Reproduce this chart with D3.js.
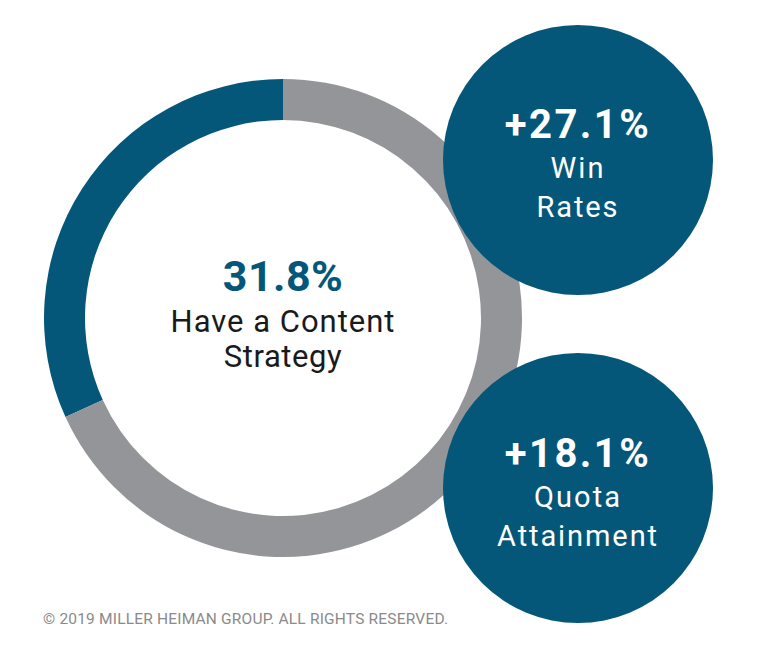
<!DOCTYPE html>
<html><head><meta charset="utf-8">
<script src="https://cdn.jsdelivr.net/npm/d3@7"></script>
<style>html,body{margin:0;padding:0;background:#fff;}svg{display:block;}</style>
</head><body>
<svg id="chart" width="768" height="666"></svg>
<script>
// ---- data ----
const shareLabels = ["Have a Content Strategy", "Other"];
const shareValues = [31.8, 68.2];
const shareHeadline = "31.8%";
const shareCaption = ["Have a Content", "Strategy"];
const bubbleValues = ["+27.1%", "+18.1%"];
const bubbleCaptions = [["Win", "Rates"], ["Quota", "Attainment"]];
const footnote = "\u00A9 2019 MILLER HEIMAN GROUP. ALL RIGHTS RESERVED.";

// ---- style ----
const BLUE = "#05577a", GRAY = "#939598";
const FONT = "Roboto, 'DejaVu Sans', sans-serif";
const svg = d3.select("#chart");

// donut
const cx = 283, cy = 318, rOuter = 239, rInner = 198;
const pie = d3.pie().sort(null).startAngle(0).endAngle(-2 * Math.PI);
const arc = d3.arc().innerRadius(rInner).outerRadius(rOuter);
const color = d3.scaleOrdinal().domain(shareLabels).range([BLUE, GRAY]);
const g = svg.append("g").attr("transform", `translate(${cx},${cy})`);
g.selectAll("path").data(pie(shareValues)).join("path")
  .attr("d", arc).attr("fill", (d, i) => color(shareLabels[i]));

function fitText(sel, w) {
  sel.each(function () {
    const len = this.getComputedTextLength();
    const n = this.textContent.length;
    if (n > 1) d3.select(this).attr("letter-spacing", ((w - len) / (n - 1)).toFixed(2));
  });
}

g.append("text").attr("x", 0).attr("y", 291 - cy).attr("text-anchor", "middle")
  .attr("font-family", FONT).attr("font-weight", 700).attr("font-size", 43)
  .attr("fill", BLUE).text(shareHeadline).call(fitText, 120);
const capW = [224, 118];
shareCaption.forEach((t, i) => {
  g.append("text").attr("x", 0).attr("y", 332 - cy + i * 35).attr("text-anchor", "middle")
    .attr("font-family", FONT).attr("font-size", 31).attr("fill", "#1a1a1a")
    .text(t).call(fitText, capW[i]);
});

// bubbles
const bubbles = [
  {cx: 578, cy: 160, r: 135, base: [138, 178, 217], w: [144, 53, 81]},
  {cx: 578, cy: 488, r: 135, base: [467, 507, 546], w: [144, 86, 160]}
];
bubbles.forEach((b, i) => {
  const bg = svg.append("g");
  bg.append("circle").attr("cx", b.cx).attr("cy", b.cy).attr("r", b.r).attr("fill", BLUE);
  bg.append("text").attr("x", b.cx).attr("y", b.base[0]).attr("text-anchor", "middle")
    .attr("font-family", FONT).attr("font-weight", 700).attr("font-size", 40)
    .attr("fill", "#fff").text(bubbleValues[i]).call(fitText, b.w[0]);
  bubbleCaptions[i].forEach((t, j) => {
    bg.append("text").attr("x", b.cx).attr("y", b.base[j + 1]).attr("text-anchor", "middle")
      .attr("font-family", FONT).attr("font-size", 29).attr("fill", "#fff")
      .text(t).call(fitText, b.w[j + 1]);
  });
});

// footnote
svg.append("text").attr("x", 43).attr("y", 624)
  .attr("font-family", FONT).attr("font-size", 15.5).attr("fill", "#8a8a8a")
  .text(footnote).call(fitText, 405);
</script>
</body></html>
